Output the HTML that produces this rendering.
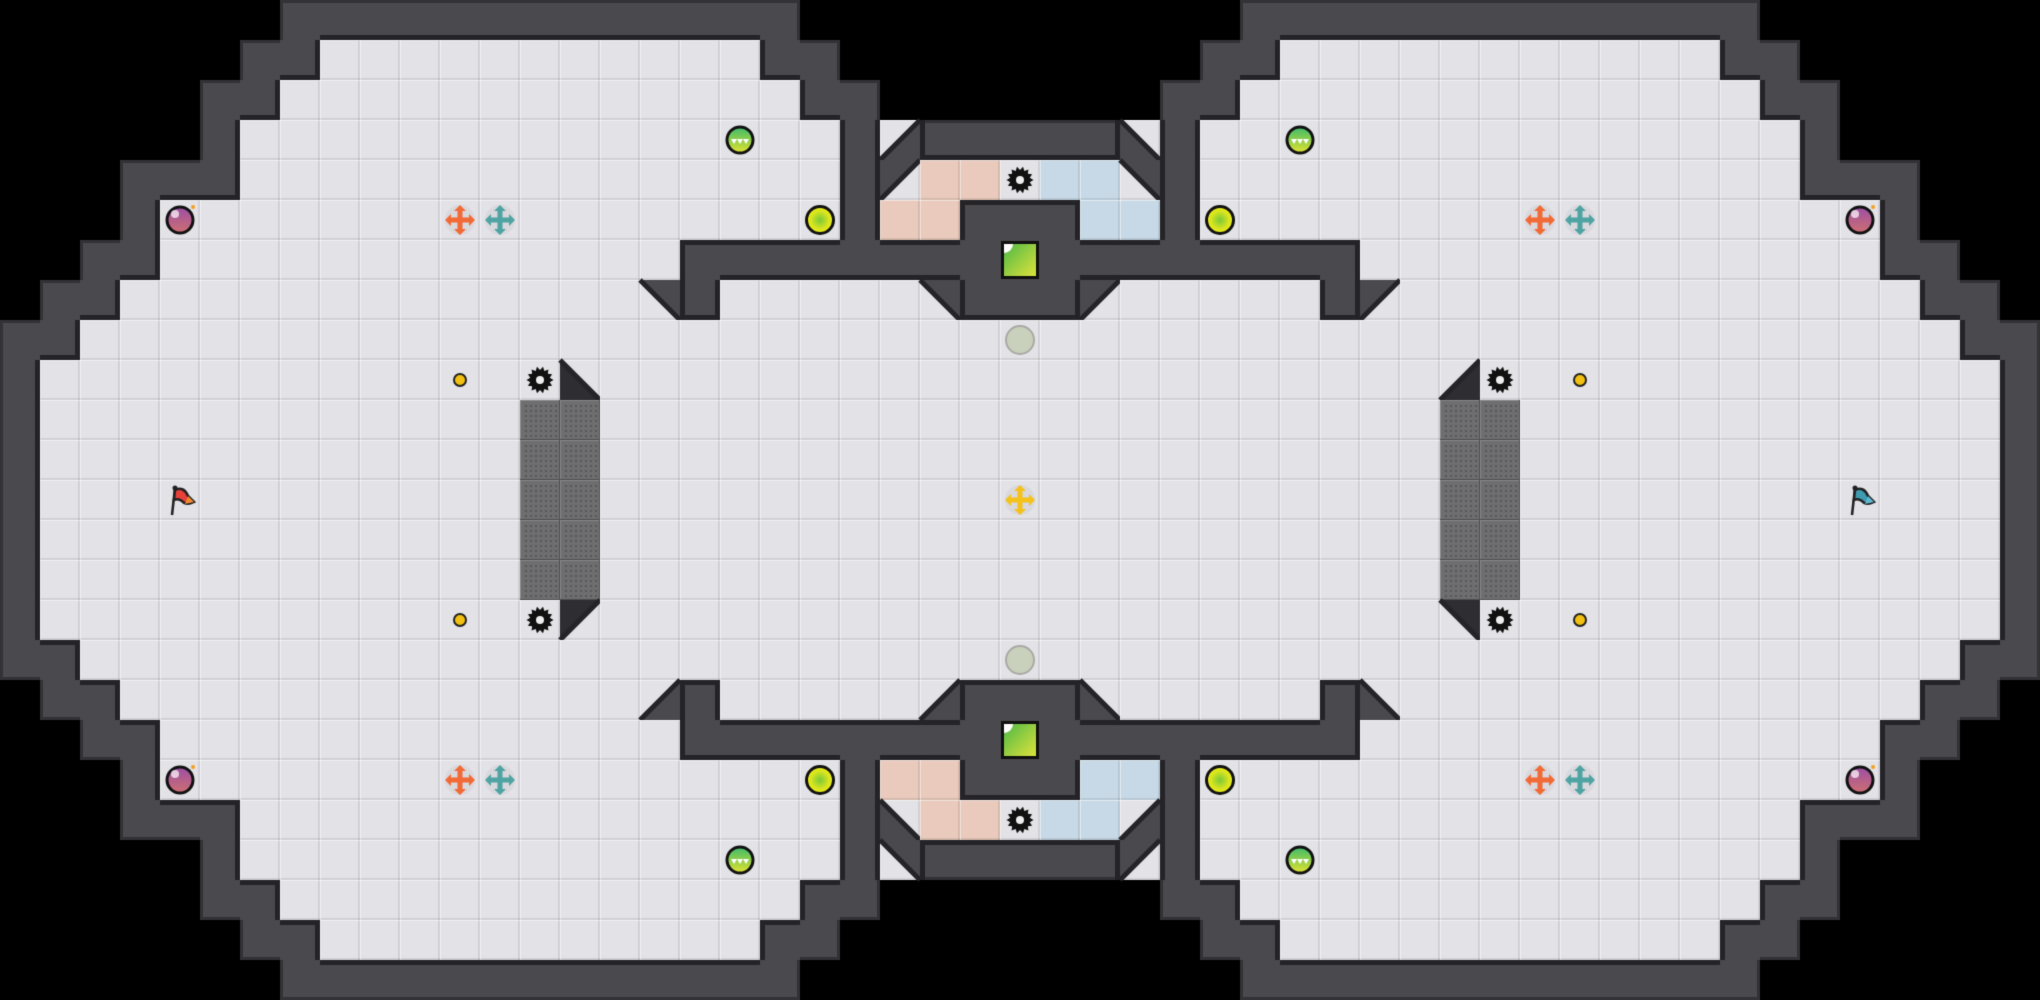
<!DOCTYPE html>
<html><head><meta charset="utf-8"><style>
html,body{margin:0;padding:0;background:#000;}
canvas{display:block;}
</style></head><body>
<canvas id="c" width="2040" height="1000"></canvas>
<script>
const T=40, ctx=document.getElementById('c').getContext('2d');
const tpl=[
"vvvvvvvwwwwwwwwwwwwwvvvvvv",
"vvvvvvwwfffffffffffwwvvvvv",
"vvvvvwwfffffffffffffwwvvvv",
"vvvvvwfffffffffffffffwAwww",
"vvvwwwfffffffffffffffwCssf",
"vvvwfffffffffffffffffwssww",
"vvwwfffffffffffffwwwwwwwww",
"vwwfffffffffffffDwfffffDww",
"wwffffffffffffffffffffffff",
"wfffffffffffffBfffffffffff",
"wffffffffffffggfffffffffff",
"wffffffffffffggfffffffffff",
"wffffffffffffggfffffffffff"];
const mH={A:'B',B:'A',C:'D',D:'C',s:'b',b:'s'}, mV={A:'D',D:'A',B:'C',C:'B'};
const G=[];
for(let r=0;r<25;r++){G.push([]);for(let c=0;c<51;c++){
 let rr=r<=12?r:24-r, cc=c<=25?c:50-c, t=tpl[rr][cc];
 if(c>25&&mH[t])t=mH[t];
 if(r>12&&mV[t])t=mV[t];
 G[r].push(t);}}
ctx.fillStyle='#000';ctx.fillRect(0,0,2040,1000);
const WALL='#4a494e',DARK='#242327';
function floor(x,y,col){ctx.fillStyle=col;ctx.fillRect(x,y,T,T);
 ctx.fillStyle='rgba(0,0,0,0.08)';ctx.fillRect(x+T-2,y,2,T);ctx.fillRect(x,y+T-2,T,2);
 ctx.fillStyle='rgba(255,255,255,0.5)';ctx.fillRect(x,y,T,1);ctx.fillRect(x,y,1,T);}
const g=(c,r)=>(r<0||r>24||c<0||c>50)?'v':G[r][c];
for(let r=0;r<25;r++)for(let c=0;c<51;c++){
 const t=G[r][c],x=c*T,y=r*T;
 if(t==='v')continue;
 if(t==='w'){ctx.fillStyle=WALL;ctx.fillRect(x,y,T,T);continue;}
 if(t==='s'){floor(x,y,'#e9cabc');continue;}
 if(t==='b'){floor(x,y,'#c7d9e7');continue;}
 if(t==='g'){ctx.fillStyle='#6e6e70';ctx.fillRect(x,y,T,T);
  ctx.fillStyle='#58585a';for(let i=0;i<7;i++)for(let j=0;j<7;j++)ctx.fillRect(x+5+i*5,y+5+j*5,2,2);
  ctx.fillStyle='#88888a';ctx.fillRect(x,y,T,1);ctx.fillRect(x,y,1,T);
  ctx.fillStyle='#4e4e50';ctx.fillRect(x+T-1,y,1,T);ctx.fillRect(x,y+T-1,T,1);continue;}
 floor(x,y,'#e3e2e7');
 if('ABCD'.includes(t)){
  let p;
  if(t==='A')p=[[x+T,y],[x+T,y+T],[x,y+T]];
  if(t==='B')p=[[x,y],[x+T,y+T],[x,y+T]];
  if(t==='C')p=[[x,y],[x+T,y],[x,y+T]];
  if(t==='D')p=[[x,y],[x+T,y],[x+T,y+T]];
  ctx.fillStyle=(c===14||c===36)?'#2e2d31':WALL;
  ctx.beginPath();ctx.moveTo(...p[0]);ctx.lineTo(...p[1]);ctx.lineTo(...p[2]);ctx.closePath();ctx.fill();
  // hypotenuse
  let h=(t==='A'||t==='C')?[[x+T,y],[x,y+T]]:[[x,y],[x+T,y+T]];
  ctx.strokeStyle=DARK;ctx.lineWidth=5;ctx.beginPath();ctx.moveTo(...h[0]);ctx.lineTo(...h[1]);ctx.stroke();
 }
}
// wall edges
for(let r=0;r<25;r++)for(let c=0;c<51;c++){
 if(G[r][c]!=='w')continue;const x=c*T,y=r*T;
 const nb=[[0,-1],[0,1],[-1,0],[1,0]];
 nb.forEach(([dc,dr])=>{const n=g(c+dc,r+dr);if(n==='w')return;
  const w=n==='v'?3:5;ctx.fillStyle=n==='v'?'#333236':DARK;
  if(dr===-1)ctx.fillRect(x,y,T,w);if(dr===1)ctx.fillRect(x,y+T-w,T,w);
  if(dc===-1)ctx.fillRect(x,y,w,T);if(dc===1)ctx.fillRect(x+T-w,y,w,T);});
}
function cen(c,r){return [c*T+20,r*T+20];}
function circ(x,y,r,fill,stroke,lw){ctx.beginPath();ctx.arc(x,y,r,0,7);if(fill){ctx.fillStyle=fill;ctx.fill();}if(stroke){ctx.strokeStyle=stroke;ctx.lineWidth=lw;ctx.stroke();}}
function bomb(c,r){const[x,y]=cen(c,r);const gr=ctx.createLinearGradient(x,y-14,x,y+14);gr.addColorStop(0,'#9a4fa8');gr.addColorStop(1,'#d07070');
 circ(x,y,13,gr,'#111',3);circ(x-5,y-6,4,'rgba(255,255,255,0.7)');circ(x+13,y-13,2,'#f5a020');}
function cross(c,r,col){const[x,y]=cen(c,r);circ(x,y,15,'rgba(210,210,215,0.6)');ctx.fillStyle=col;
 ctx.fillRect(x-11,y-2.5,22,5);ctx.fillRect(x-2.5,y-11,5,22);
 ctx.beginPath();[[0,-1],[0,1],[-1,0],[1,0]].forEach(([a,b])=>{ctx.moveTo(x+a*15,y+b*15);ctx.lineTo(x+a*9+b*6,y+b*9+a*6);ctx.lineTo(x+a*9-b*6,y+b*9-a*6);ctx.closePath();});ctx.fill();}
function ball(c,r){const[x,y]=cen(c,r);const gr=ctx.createLinearGradient(x,y-13,x,y+13);gr.addColorStop(0,'#3dbb6a');gr.addColorStop(1,'#e3e330');
 circ(x,y,13,gr,'#111',3);ctx.fillStyle='#fff';for(let i=-1;i<=1;i++){ctx.beginPath();ctx.moveTo(x+i*6-3,y-1);ctx.lineTo(x+i*6+3,y-1);ctx.lineTo(x+i*6,y+4);ctx.fill();}}
function lime(c,r){const[x,y]=cen(c,r);const gr=ctx.createRadialGradient(x,y,0,x,y,14);gr.addColorStop(0,'#7cc83a');gr.addColorStop(0.7,'#e0e81c');gr.addColorStop(1,'#e8ea18');circ(x,y,13.5,gr,'#111',3);}
function gear(c,r){const[x,y]=cen(c,r);ctx.fillStyle='#111';ctx.beginPath();const n=14;
 for(let i=0;i<n*2;i++){const a=i*Math.PI/n,rr=i%2?10:13.5;ctx.lineTo(x+Math.cos(a)*rr,y+Math.sin(a)*rr);}ctx.closePath();ctx.fill();circ(x,y,4,'#eee');}
function dot(c,r){const[x,y]=cen(c,r);circ(x,y,6,'#f2c010','#222',2);}
function grey(c,r){const[x,y]=cen(c,r);circ(x,y,14,'#c9d0bb','#a9aaa5',2);}
function ycross(c,r){const[x,y]=cen(c,r);cross(c,r,'#f4c21a');}
function gsq(c,r){const x=c*T+3,y=r*T+3;ctx.fillStyle='#111';ctx.fillRect(x-2,y-2,38,38);
 const gr=ctx.createLinearGradient(x,y,x+34,y+34);gr.addColorStop(0,'#4ab848');gr.addColorStop(1,'#e2e43a');ctx.fillStyle=gr;ctx.fillRect(x+1,y+1,32,32);
 ctx.fillStyle='#fff';ctx.beginPath();ctx.moveTo(x+1,y+1);ctx.lineTo(x+10,y+1);ctx.arc(x+1,y+1,9,0,Math.PI/2);ctx.closePath();ctx.fill();}
function flag(c,r,col,col2){const[x,y]=cen(c,r);ctx.strokeStyle='#222';ctx.lineWidth=2.5;ctx.beginPath();ctx.moveTo(x-8,y+15);ctx.lineTo(x-5,y-12);ctx.stroke();
 ctx.fillStyle=col;ctx.beginPath();ctx.moveTo(x-5,y-10);ctx.quadraticCurveTo(x+4,y-14,x+8,y-4);ctx.lineTo(x+14,y+2);ctx.quadraticCurveTo(x+6,y+6,x+2,y+1);ctx.quadraticCurveTo(x-2,y-2,x-6,y);ctx.closePath();ctx.fill();ctx.stroke();
 ctx.fillStyle=col2;ctx.beginPath();ctx.moveTo(x+8,y-4);ctx.lineTo(x+14,y+2);ctx.lineTo(x+5,y+4);ctx.closePath();ctx.fill();circ(x-5,y-12,2.5,'#222');}
const quads=[[0,0],[1,0],[0,1],[1,1]];
quads.forEach(([h,v])=>{
 const C=c=>h?50-c:c,R=r=>v?24-r:r;
 bomb(C(4),R(5));lime(C(20),R(5));ball(C(18),R(3));gear(C(13),R(9));dot(C(11),R(9));
 cross(h?38:11,R(5),'#f26a36');cross(h?39:12,R(5),'#4fa4a3');
});
[0,1].forEach(v=>{const R=r=>v?24-r:r;gear(25,R(4));gsq(25,R(6));grey(25,R(8));});
ycross(25,12);
flag(4,12,'#e8413a','#f08a30');flag(46,12,'#3e9bb0','#5fb8d0');
</script>
</body></html>
